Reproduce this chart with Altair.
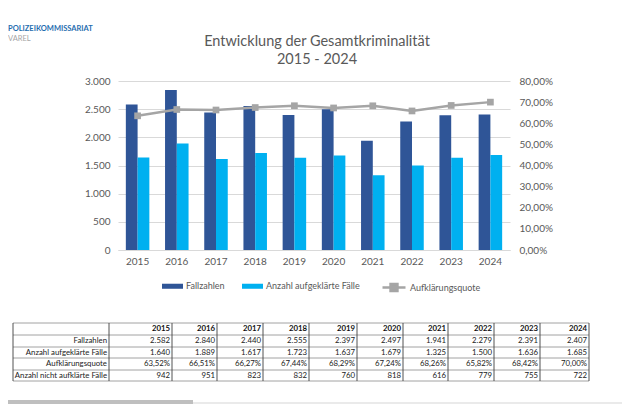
import altair as alt
import pandas as pd

# ---------------- data ----------------
YEARS = [2015, 2016, 2017, 2018, 2019, 2020, 2021, 2022, 2023, 2024]
FALLZAHLEN = [2582, 2840, 2440, 2555, 2397, 2497, 1941, 2279, 2391, 2407]
AUFGEKLAERT = [1640, 1889, 1617, 1723, 1637, 1679, 1325, 1500, 1636, 1685]
QUOTE = [63.52, 66.51, 66.27, 67.44, 68.29, 67.24, 68.26, 65.82, 68.42, 70.00]
NICHT_AUFGEKLAERT = [942, 951, 823, 832, 760, 818, 616, 779, 755, 722]
SERIES = ["Fallzahlen", "Anzahl aufgeklärte Fälle"]
LINE_SERIES = "Aufklärungsquote"
ROW_LABELS = ["Fallzahlen", "Anzahl aufgeklärte Fälle", "Aufklärungsquote",
              "Anzahl nicht aufklärte Fälle"]
LEFT_TICKS = [0, 500, 1000, 1500, 2000, 2500, 3000]
RIGHT_TICKS = [0, 0.1, 0.2, 0.3, 0.4, 0.5, 0.6, 0.7, 0.8]
TITLE_LINES = ["Entwicklung der Gesamtkriminalität", "2015 - 2024"]
HEADER = ["POLIZEIKOMMISSARIAT", "VAREL"]

# ---------------- layout / style ----------------
W, H = 392, 169
PAD = {"left": 110, "top": 73, "right": 112, "bottom": 154}
OX, OY = 8 + PAD["left"], 8 + PAD["top"]  # page position of plot origin
FONT = "Lato"
TXT = "#595959"
DARK = "#2F5597"
LIGHT = "#00B0F0"
GRAY = "#A5A5A5"
GRID = "#D9D9D9"

# table layout (page pixels)
COL_EDGES = [13, 109, 172, 217, 263, 309, 357, 403, 448, 494, 540, 589]
ROW_EDGES = [323, 335, 347, 358, 370, 381]


def de_int(v):
    return f"{v:,}".replace(",", ".")


def de_pct(v):
    return f"{v:.2f}%".replace(".", ",")


# ---------------- main chart ----------------
bars_df = pd.DataFrame({
    "Jahr": [str(y) for y in YEARS] * 2,
    "Reihe": [SERIES[0]] * len(YEARS) + [SERIES[1]] * len(YEARS),
    "Wert": FALLZAHLEN + AUFGEKLAERT,
})
line_df = pd.DataFrame({
    "Jahr": [str(y) for y in YEARS],
    "Quote": [q / 100 for q in QUOTE],
    "Reihe": [LINE_SERIES] * len(YEARS),
})

x_enc = alt.X(
    "Jahr:N",
    scale=alt.Scale(paddingInner=0.4, paddingOuter=0.2),
    axis=alt.Axis(title=None, labelAngle=0, ticks=False, domainColor=GRID,
                  labelColor=TXT, labelFont=FONT, labelFontSize=10,
                  labelPadding=6, grid=False),
)

bars = alt.Chart(bars_df).mark_bar().encode(
    x=x_enc,
    xOffset=alt.XOffset("Reihe:N", sort=SERIES, scale=alt.Scale(domain=SERIES, paddingInner=0)),
    y=alt.Y("Wert:Q", scale=alt.Scale(domain=[0, 3000]),
            axis=alt.Axis(title=None, values=LEFT_TICKS, ticks=False, domain=False,
                          gridColor=GRID, labelColor=TXT, labelFont=FONT,
                          labelFontSize=10, labelPadding=8, labelOverlap=False,
                          labelExpr="replace(format(datum.value, ','), ',', '.')")),
    color=alt.Color("Reihe:N", sort=SERIES,
                    scale=alt.Scale(domain=SERIES, range=[DARK, LIGHT]),
                    legend=alt.Legend(title=None, orient="none", direction="horizontal",
                                      legendX=162 - OX, legendY=286 - OY - 10.5,
                                      symbolType="M-1,-0.24H1V0.24H-1Z", symbolSize=441,
                                      symbolStrokeWidth=0, labelFont=FONT, labelFontSize=9,
                                      labelColor=TXT, labelOffset=3, columnPadding=17,
                                      padding=0, labelLimit=300)),
)

right_axis = alt.Axis(orient="right", title=None, values=RIGHT_TICKS, ticks=False,
                      domain=False, grid=False, labelColor=TXT, labelFont=FONT,
                      labelFontSize=10, labelPadding=9, labelOverlap=False,
                      labelExpr="replace(format(datum.value, '.2%'), '.', ',')")
y_quote = alt.Y("Quote:Q", scale=alt.Scale(domain=[0, 0.8]), axis=right_axis)

line = alt.Chart(line_df).mark_line(strokeWidth=2.5).encode(
    x=alt.X("Jahr:N"),
    y=y_quote,
    stroke=alt.Stroke("Reihe:N", scale=alt.Scale(domain=[LINE_SERIES], range=[GRAY]),
                      legend=alt.Legend(title=None, orient="none", direction="horizontal",
                                        legendX=381 - OX, legendY=286 - OY - 11.5,
                                        symbolType="M-1,0H1M-0.3,-0.3H0.3V0.3H-0.3Z",
                                        symbolSize=529, symbolStrokeWidth=2.5,
                                        symbolFillColor=GRAY, labelFont=FONT,
                                        labelFontSize=9, labelColor=TXT, labelOffset=3,
                                        padding=0, labelLimit=300)),
)
points = alt.Chart(line_df).mark_square(size=45, color=GRAY, opacity=1).encode(
    x=alt.X("Jahr:N"),
    y=y_quote,
)

main = alt.layer(bars, alt.layer(line, points)).resolve_scale(y="independent")

# ---------------- table ----------------
cells = []
header_cells = []
for j, yr in enumerate(YEARS):
    header_cells.append({"px": COL_EDGES[j + 2] - 2 - OX,
                         "py": (ROW_EDGES[0] + ROW_EDGES[1]) / 2 - OY,
                         "t": str(yr)})
rows = [
    [de_int(v) for v in FALLZAHLEN],
    [de_int(v) for v in AUFGEKLAERT],
    [de_pct(v) for v in QUOTE],
    [de_int(v) for v in NICHT_AUFGEKLAERT],
]
for i, (lab, vals) in enumerate(zip(ROW_LABELS, rows)):
    cy = (ROW_EDGES[i + 1] + ROW_EDGES[i + 2]) / 2 - OY
    cells.append({"px": COL_EDGES[1] - 2 - OX, "py": cy, "t": lab})
    for j, v in enumerate(vals):
        cells.append({"px": COL_EDGES[j + 2] - 2 - OX, "py": cy, "t": v})

table_body = alt.Chart(pd.DataFrame(cells)).mark_text(
    align="right", baseline="middle", font=FONT, fontSize=7.8, color="#222222"
).encode(x=alt.X("px:Q", scale=None), y=alt.Y("py:Q", scale=None), text="t:N")

table_head = alt.Chart(pd.DataFrame(header_cells)).mark_text(
    align="right", baseline="middle", font=FONT, fontSize=7.8, fontWeight="bold",
    color="#111111"
).encode(x=alt.X("px:Q", scale=None), y=alt.Y("py:Q", scale=None), text="t:N")

hlines = pd.DataFrame({"x": [COL_EDGES[0] - OX] * len(ROW_EDGES),
                       "x2": [COL_EDGES[-1] - OX] * len(ROW_EDGES),
                       "y": [r - OY for r in ROW_EDGES]})
vlines = pd.DataFrame({"x": [c - OX for c in COL_EDGES],
                       "y": [ROW_EDGES[0] - OY] * len(COL_EDGES),
                       "y2": [ROW_EDGES[-1] - OY] * len(COL_EDGES)})

table_h = alt.Chart(hlines).mark_rule(color="#8C8C8C", strokeWidth=0.8).encode(
    x=alt.X("x:Q", scale=None), x2="x2:Q", y=alt.Y("y:Q", scale=None))
table_v = alt.Chart(vlines).mark_rule(color="#404040", strokeWidth=0.9).encode(
    x=alt.X("x:Q", scale=None), y=alt.Y("y:Q", scale=None), y2="y2:Q")

# ---------------- title & decorations ----------------
one = pd.DataFrame({"a": [0]})
title1 = alt.Chart(one).mark_text(
    text=TITLE_LINES[0], align="center", baseline="middle", font=FONT,
    fontSize=14.5, color=TXT
).encode(x=alt.value(317 - OX), y=alt.value(42 - OY))
title2 = alt.Chart(one).mark_text(
    text=TITLE_LINES[1], align="center", baseline="middle", font=FONT,
    fontSize=14.5, color=TXT
).encode(x=alt.value(317 - OX), y=alt.value(60 - OY))
head1 = alt.Chart(one).mark_text(
    text=HEADER[0], align="left", baseline="middle", font=FONT,
    fontSize=7.5, fontWeight="bold", color="#1F6EAF"
).encode(x=alt.value(8 - OX), y=alt.value(29 - OY))
head2 = alt.Chart(one).mark_text(
    text=HEADER[1], align="left", baseline="middle", font=FONT,
    fontSize=7.5, color="#A6A6A6"
).encode(x=alt.value(8 - OX), y=alt.value(39 - OY))
footbar = alt.Chart(one).mark_rect(color="#BFBFBF").encode(
    x=alt.value(8 - OX), x2=alt.value(193 - OX), y=alt.value(400 - OY), y2=alt.value(404 - OY))
footline = alt.Chart(one).mark_rule(color="#E3E3E3", strokeWidth=1.5).encode(
    x=alt.value(193 - OX), x2=alt.value(622 - OX), y=alt.value(403 - OY))

chart = alt.layer(
    main, table_h, table_v, table_body, table_head,
    title1, title2, head1, head2, footbar, footline
).resolve_scale(x="independent", y="independent").properties(
    width=W, height=H, padding=PAD,
    autosize=alt.AutoSizeParams(type="none"),
).configure_view(stroke=None)

chart.save("out.html", embed_options={"renderer": "svg", "actions": False})
